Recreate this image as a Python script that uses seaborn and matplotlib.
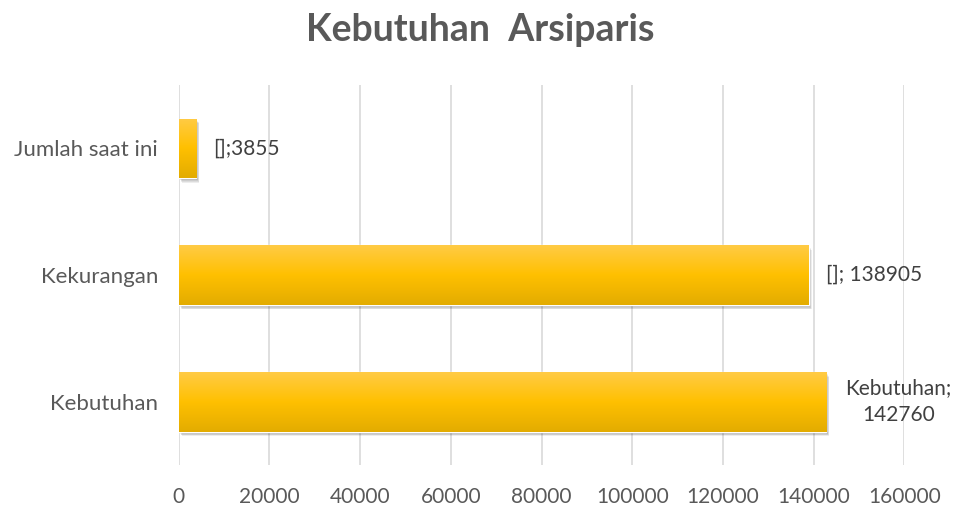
import matplotlib
matplotlib.use("Agg")
import matplotlib.pyplot as plt
import matplotlib.patches as mpatches
import matplotlib.colors as mcolors
import numpy as np
import pandas as pd
import seaborn as sns

categories = ["Jumlah saat ini", "Kekurangan", "Kebutuhan"]
values = [3855, 138905, 142760]
labels = ["[];3855", "[]; 138905", "Kebutuhan;\n142760"]

df = pd.DataFrame({"kategori": categories, "jumlah": values})

sns.set_style("white")
plt.rcParams["font.family"] = ["Lato", "DejaVu Sans"]

fig = plt.figure(figsize=(9.61, 5.09), dpi=100)
ax = fig.add_axes([0.186, 0.086, 0.755, 0.747])

sns.barplot(data=df, x="jumlah", y="kategori", orient="h", color="#FFC000",
            width=0.47, ax=ax, zorder=3)

# gradient + soft drop shadow like the office chart
cmap = mcolors.LinearSegmentedColormap.from_list(
    "gold", ["#FFCB45", "#FFC000", "#E3AC00"])
grad = np.linspace(0, 1, 100).reshape(-1, 1)
for p in ax.patches[:len(values)]:
    x0, y0 = p.get_x(), p.get_y()
    w, h = p.get_width(), p.get_height()
    for k in range(1, 7):
        shadow = mpatches.Rectangle((x0 + 110 * k, y0 + 0.006 * k), w, h,
                                    color="#000000", alpha=0.07, zorder=2,
                                    lw=0)
        ax.add_patch(shadow)
    im = ax.imshow(grad, cmap=cmap, aspect="auto",
                   extent=(x0, x0 + w, y0 + h, y0), zorder=4)
    im.set_clip_path(p)

ax.text(values[0] + 3700, 0, labels[0], va="center", ha="left",
        fontsize=15, color="#404040")
ax.text(values[1] + 3900, 1, labels[1], va="center", ha="left",
        fontsize=15, color="#404040")
ax.text(158700, 2, labels[2], va="center", ha="center", fontsize=15,
        color="#404040", linespacing=1.45, multialignment="center")

ax.set_xlim(0, 160000)
ax.set_ylim(2.5, -0.5)
ax.set_xticks(range(0, 160001, 20000))
ax.xaxis.grid(True, color="#D9D9D9", lw=1.2, zorder=0)
ax.set_axisbelow(True)
for s in ax.spines.values():
    s.set_visible(False)
ax.tick_params(axis="x", length=0, labelsize=15, colors="#595959", pad=16)
ax.tick_params(axis="y", length=0, labelsize=16, colors="#595959", pad=15)
ax.set_xlabel("")
ax.set_ylabel("")

fig.suptitle("Kebutuhan  Arsiparis", x=0.5, y=0.975, fontsize=27,
             fontweight="bold", color="#595959")

fig.savefig("out.png", dpi=100)
